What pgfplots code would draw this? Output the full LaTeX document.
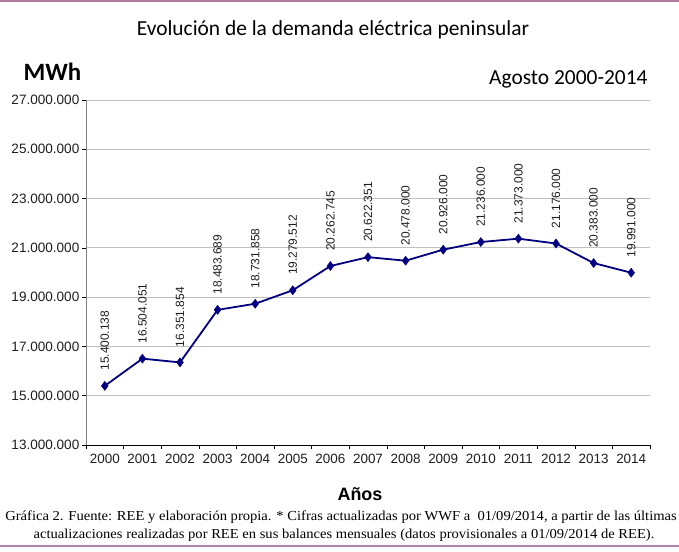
\documentclass[border=0pt]{standalone}
\usepackage{pgfplots}
\pgfplotsset{compat=1.18}
\usepackage{pgfplotstable}
\usepackage{fontspec}
\setmainfont{Liberation Sans}
\newfontfamily\calibri{Carlito}
\newfontfamily\capfont[FakeStretch=1.06]{Liberation Serif}
\definecolor{linenavy}{RGB}{0,0,128}
\definecolor{gridgray}{RGB}{192,192,192}
\definecolor{toppurple}{RGB}{176,122,161}
\definecolor{botpurple}{RGB}{170,135,170}
\definecolor{ticklab}{RGB}{30,30,30}
\pgfplotstableread{
x y label
0 15400138 15.400.138
1 16504051 16.504.051
2 16351854 16.351.854
3 18483689 18.483.689
4 18731858 18.731.858
5 19279512 19.279.512
6 20262745 20.262.745
7 20622351 20.622.351
8 20478000 20.478.000
9 20926000 20.926.000
10 21236000 21.236.000
11 21373000 21.373.000
12 21176000 21.176.000
13 20383000 20.383.000
14 19991000 19.991.000
}\demanda
\begin{document}
\begin{tikzpicture}[x=1bp,y=1bp]
\path[use as bounding box] (0,0) rectangle (679,552);
\fill[toppurple] (0,550) rectangle (679,552);
\draw[botpurple, line width=1.5bp] (0,6) -- (679,6);
\begin{axis}[
  at={(86bp,107bp)}, anchor=south west,
  scale only axis, width=564bp, height=345bp,
  clip=false,
  xmin=-0.5, xmax=14.5,
  ymin=13000000, ymax=27000000,
  scaled y ticks=false,
  axis x line=bottom, axis y line=left,
  x axis line style={-, black},
  y axis line style={-, gray},
  xtick={-0.5,0.5,...,14.5},
  x tick label as interval,
  xticklabels={2000,2001,2002,2003,2004,2005,2006,2007,2008,2009,2010,2011,2012,2013,2014},
  ytick={13000000,15000000,17000000,19000000,21000000,23000000,25000000,27000000},
  yticklabels={13.000.000,15.000.000,17.000.000,19.000.000,21.000.000,23.000.000,25.000.000,27.000.000},
  tick align=outside,
  major tick length=4bp,
  tick style={black, line width=0.6bp},
  ymajorgrids, grid style={gridgray, line width=0.8bp},
  xticklabel style={font=\fontsize{13.5}{15}\selectfont, yshift=-2bp, text=ticklab},
  yticklabel style={font=\fontsize{13.6}{15}\selectfont, inner xsep=2.5bp, text=ticklab},
  nodes near coords,
  point meta=explicit symbolic,
  every node near coord/.append style={rotate=90, anchor=west, inner xsep=15bp, font=\fontsize{12}{14}\selectfont, text=ticklab},
]
\addplot[linenavy, line width=1.8bp, mark=diamond*, mark size=4.5bp, mark options={fill=linenavy, draw=linenavy, line width=0.5bp}]
  table[x=x, y=y, meta=label] {\demanda};
\end{axis}
\node[font=\calibri\fontsize{21.5}{24}\selectfont] at (333,522) {Evolución de la demanda eléctrica peninsular};
\node[font=\calibri\bfseries\fontsize{25}{28}\selectfont, anchor=west] at (20,480) {MWh};
\node[font=\calibri\fontsize{21.5}{24}\selectfont, anchor=east] at (651,473) {Agosto 2000-2014};
\node[font=\bfseries\fontsize{18}{21}\selectfont] at (360,58) {Años};
\node[font=\capfont\fontsize{13.8}{16}\selectfont] at (341,35) {Gráfica 2. Fuente: REE y elaboración propia. * Cifras actualizadas por WWF a\ \ 01/09/2014, a partir de las últimas};
\node[font=\capfont\fontsize{13.8}{16}\selectfont] at (344,17) {actualizaciones realizadas por REE en sus balances mensuales (datos provisionales a 01/09/2014 de REE).};
\end{tikzpicture}
\end{document}
